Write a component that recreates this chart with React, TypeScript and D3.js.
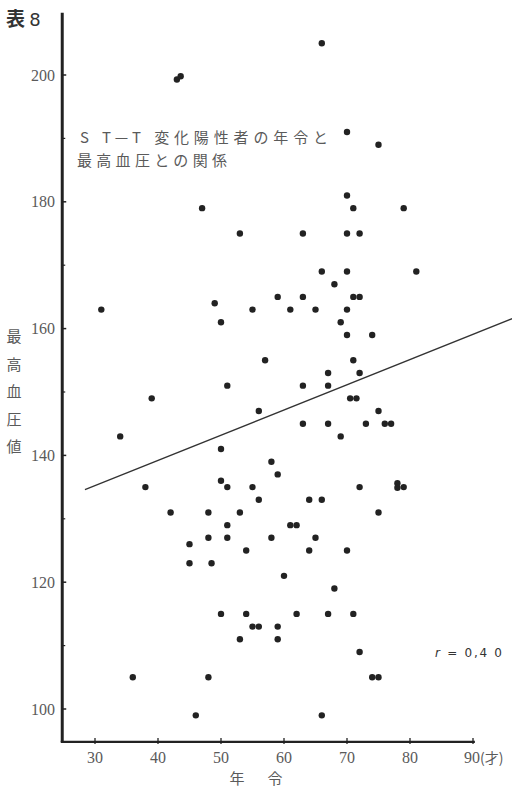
import React from "react";
import * as d3 from "d3";

const ages: number[] = [
  66, 43, 43.6, 70, 75, 70, 71, 79, 47, 53, 63, 70, 72,
  66, 70, 81, 68, 59, 63, 71, 72, 49, 31, 55, 61, 65, 70, 50, 69, 70, 74,
  57, 71, 67, 72, 51, 63, 67, 39, 70.5, 71.5, 56, 75, 63, 67, 73, 76, 77,
  34, 69, 50, 58, 59, 50, 38, 51, 55, 72, 78, 78, 79, 56, 64, 66,
  42, 48, 53, 75, 51, 61, 62, 45, 48, 51, 58, 65, 54, 64, 70, 45, 48.5,
  60, 68, 50, 54, 62, 67, 71, 55, 56, 59, 53, 59, 72, 36, 48, 74, 75, 46, 66,
];
const pressures: number[] = [
  205, 199.3, 199.8, 191, 189, 181, 179, 179, 179, 175, 175, 175, 175,
  169, 169, 169, 167, 165, 165, 165, 165, 164, 163, 163, 163, 163, 163, 161, 161, 159, 159,
  155, 155, 153, 153, 151, 151, 151, 149, 149, 149, 147, 147, 145, 145, 145, 145, 145,
  143, 143, 141, 139, 137, 136, 135, 135, 135, 135, 135.6, 134.9, 135, 133, 133, 133,
  131, 131, 131, 131, 129, 129, 129, 126, 127, 127, 127, 127, 125, 125, 125, 123, 123,
  121, 119, 115, 115, 115, 115, 115, 113, 113, 113, 111, 111, 109, 105, 105, 105, 105, 99, 99,
];
const xTicks: number[] = [30, 40, 50, 60, 70, 80, 90];
const yTicks: number[] = [100, 120, 140, 160, 180, 200];
const yMinorTicks: number[] = [110, 130, 150, 170, 190];
const regressionAges: number[] = [28.4, 96.3];
const regressionPressures: number[] = [134.6, 161.6];
const axisAgeRange: number[] = [24.8, 90.3];
const axisPressureRange: number[] = [94.8, 209.8];
const titleLines: string[] = ["S T—T  変化陽性者の年令と", "最高血圧との関係"];
const yLabelChars: string[] = ["最", "高", "血", "圧", "値"];

export default function App() {
  const W = 512;
  const H = 788;
  const x = d3.scaleLinear().domain([30, 90]).range([95, 473]);
  const y = d3.scaleLinear().domain([100, 200]).range([709, 75]);
  const x0 = x(axisAgeRange[0]);
  const x1 = x(axisAgeRange[1]);
  const yb = y(axisPressureRange[0]);
  const yt = y(axisPressureRange[1]);
  const line = d3
    .line<number>()
    .x((d) => x(regressionAges[d]))
    .y((d) => y(regressionPressures[d]));
  const serif = "'Liberation Serif', 'DejaVu Serif', serif";
  const cjk = "'Noto Sans CJK JP', sans-serif";
  const ink = "#222";
  const grey = "#5a5a5a";
  return (
    <svg
      width={W}
      height={H}
      style={{ position: "absolute", left: 0, top: 0, background: "#fff" }}
    >
      {/* title */}
      <text x={6} y={26} fontFamily={cjk} fontSize={19} fontWeight={700} fill="#333">
        表 <tspan fontFamily="'DejaVu Sans', sans-serif" fontWeight={400} fontSize={18}>8</tspan>
      </text>
      <text x={80} y={143} fontFamily={cjk} fontSize={15} fill={grey} textLength={248} lengthAdjust="spacing">
        {titleLines[0]}
      </text>
      <text x={77} y={166} fontFamily={cjk} fontSize={15} fill={grey} textLength={150} lengthAdjust="spacing">
        {titleLines[1]}
      </text>

      {/* y axis */}
      <line x1={x0} x2={x0} y1={yt} y2={yb} stroke={ink} strokeWidth={3} />
      {yTicks.map((t) => (
        <g key={"yt" + t}>
          <line x1={x0} x2={x0 + 4} y1={y(t)} y2={y(t)} stroke={ink} strokeWidth={1.5} />
          <text x={55} y={y(t) + 5.5} textAnchor="end" fontFamily={serif} fontSize={16} fill={grey}>
            {t}
          </text>
        </g>
      ))}
      {yMinorTicks.map((t) => (
        <line key={"ym" + t} x1={x0} x2={x0 + 3} y1={y(t)} y2={y(t)} stroke={ink} strokeWidth={1.2} />
      ))}
      {yLabelChars.map((c, i) => (
        <text key={c} x={14} y={342 + i * 27.5} textAnchor="middle" fontFamily={cjk} fontSize={15} fill={grey}>
          {c}
        </text>
      ))}

      {/* x axis */}
      <line x1={x0 - 1.5} x2={x1} y1={yb} y2={yb} stroke={ink} strokeWidth={2.2} />
      {xTicks.map((t) => (
        <g key={"xt" + t}>
          <line x1={x(t)} x2={x(t)} y1={yb - 4} y2={yb + 2} stroke={ink} strokeWidth={1.3} />
          {t === 90 ? (
            <text x={x(t) - 9} y={763} fontFamily={serif} fontSize={16} fill={grey}>
              {t}
              <tspan fontFamily={cjk} fontSize={14}>(才)</tspan>
            </text>
          ) : (
            <text x={x(t)} y={763} textAnchor="middle" fontFamily={serif} fontSize={16} fill={grey}>
              {t}
            </text>
          )}
        </g>
      ))}
      <text x={237} y={784} textAnchor="middle" fontFamily={cjk} fontSize={15} fill={grey}>
        年
      </text>
      <text x={275} y={784} textAnchor="middle" fontFamily={cjk} fontSize={15} fill={grey}>
        令
      </text>

      {/* regression line */}
      <path d={line([0, 1]) || ""} fill="none" stroke="#333" strokeWidth={1.4} />

      {/* points */}
      {ages.map((a, i) => (
        <circle key={i} cx={x(a)} cy={y(pressures[i])} r={3.2} fill={ink} />
      ))}

      <text x={435} y={657} fontFamily="'DejaVu Sans', sans-serif" fontSize={12} fill="#333" textLength={67} lengthAdjust="spacing">
        <tspan fontStyle="italic">r</tspan> = 0,4 0
      </text>
    </svg>
  );
}
